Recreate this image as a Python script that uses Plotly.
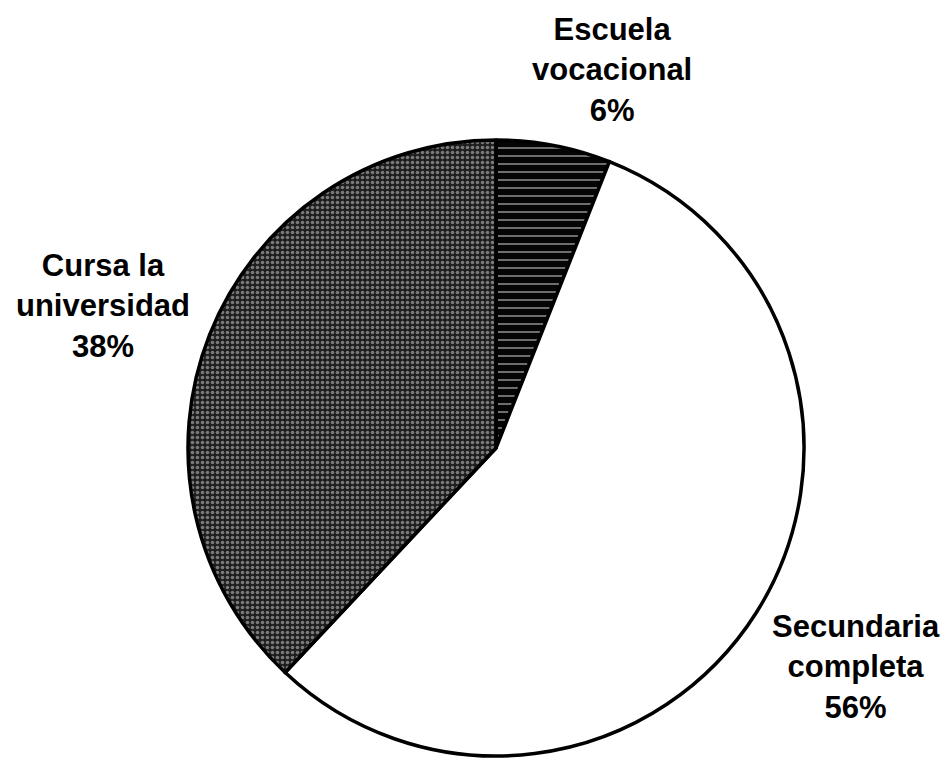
import plotly.graph_objects as go

# Education status of respondents
labels = ["Escuela vocacional", "Secundaria completa", "Cursa la universidad"]
label_lines = [["Escuela", "vocacional"], ["Secundaria", "completa"], ["Cursa la", "universidad"]]
values = [6, 56, 38]

W, H = 948, 758

# Pie placement in pixels (centre and radius)
cx, cy, r = 496, 448, 308

fig = go.Figure(
    go.Pie(
        labels=labels,
        values=values,
        sort=False,
        direction="clockwise",
        rotation=0,
        textinfo="none",
        hoverinfo="label+percent",
        showlegend=False,
        domain=dict(
            x=[(cx - r) / W, (cx + r) / W],
            y=[(H - cy - r) / H, (H - cy + r) / H],
        ),
        marker=dict(
            colors=["#050505", "#ffffff", "#1e1e1e"],
            line=dict(color="#000000", width=3.5),
            pattern=dict(
                shape=["-", "", "."],
                fgcolor=["#d0d0d0", "#ffffff", "#7a7a7a"],
                bgcolor=["#050505", "#ffffff", "#1e1e1e"],
                size=[8, 8, 5],
                solidity=[0.13, 0.2, 0.4],
                fillmode="replace",
            ),
        ),
    )
)

# Outside labels: (x, y) pixel centre of each text block
label_pos = [(612, 70), (856, 667), (103, 306)]
annotations = []
for lines, v, (px, py) in zip(label_lines, values, label_pos):
    annotations.append(
        dict(
            text="<br>".join(lines + [f"{v}%"]),
            x=px / W,
            y=1 - py / H,
            xref="paper",
            yref="paper",
            xanchor="center",
            yanchor="middle",
            showarrow=False,
            align="center",
            font=dict(family="Liberation Sans, Arial, sans-serif", size=31, color="#000000", weight="bold"),
        )
    )

fig.update_layout(
    width=W,
    height=H,
    margin=dict(l=0, r=0, t=0, b=0),
    paper_bgcolor="#ffffff",
    plot_bgcolor="#ffffff",
    annotations=annotations,
)

fig.write_html("out.html")
